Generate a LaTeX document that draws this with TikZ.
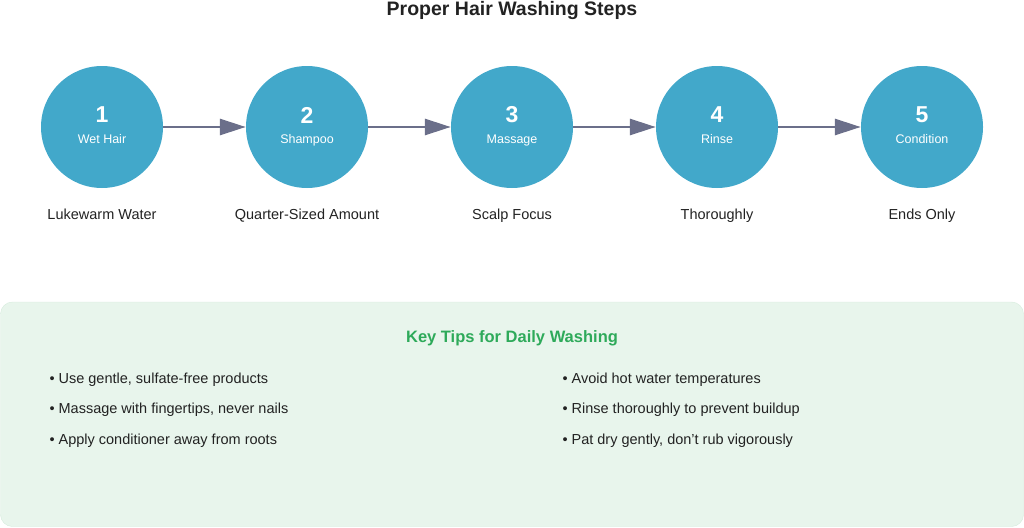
\documentclass[tikz,border=0pt]{standalone}
\usepackage{fontspec}
\setmainfont{Liberation Sans}
\usetikzlibrary{arrows.meta}
\definecolor{circ}{HTML}{42A8CA}
\definecolor{arr}{HTML}{6B6F8A}
\definecolor{boxbg}{HTML}{E8F5EC}
\definecolor{boxln}{HTML}{D5EBDC}
\definecolor{grn}{HTML}{2EAA5A}
\definecolor{txt}{HTML}{222222}
\tikzset{
 stepc/.style={circle,fill=circ,minimum size=122pt,inner sep=0pt},
 conn/.style={draw=arr,line width=2.8pt,-{Triangle[length=26pt,width=16pt]}},
 lab/.style={font=\fontsize{14.5}{16}\selectfont,text=txt,text height=10.5pt,text depth=3pt},
 tip/.style={font=\fontsize{14.5}{16}\selectfont,text=txt,anchor=west,text height=10.5pt,text depth=3pt},
}
\begin{document}
\begin{tikzpicture}[x=1pt,y=-1pt]
\useasboundingbox (0,0) rectangle (1024,527);
\node[font=\bfseries\fontsize{19.5}{22}\selectfont,text=txt,text height=14pt,text depth=4pt] (title) at (512,10.5) {Proper Hair Washing Steps};
\foreach \i/\x/\n/\l in {1/102/Wet Hair/Lukewarm Water,2/307/Shampoo/Quarter-Sized Amount,3/512/Massage/Scalp Focus,4/717/Rinse/Thoroughly,5/922/Condition/Ends Only}{
 \node[stepc] (s\i) at (\x,127) {};
 \node[text=white,font=\bfseries\fontsize{23}{24}\selectfont] (n\i) at (\x,115) {\i};
 \node[text=white,font=\fontsize{12.5}{14}\selectfont,text height=9pt,text depth=2.5pt] (t\i) at (\x,140) {\n};
 \node[lab] (l\i) at (\x,216) {\l};
}
\foreach \a/\b in {1/2,2/3,3/4,4/5}{\draw[conn] (s\a) -- (s\b);}
\draw[fill=boxbg,draw=boxln,rounded corners=12pt] (0.5,302) rectangle (1023.5,526.5);
\node[font=\bfseries\fontsize{16.5}{18}\selectfont,text=grn] (kt) at (512,338) {Key Tips for Daily Washing};
\node[tip] (a1) at (46,380) {• Use gentle, sulfate-free products};
\node[tip] (a2) at (46,410) {• Massage with fingertips, never nails};
\node[tip] (a3) at (46,441) {• Apply conditioner away from roots};
\node[tip] (b1) at (559,380) {• Avoid hot water temperatures};
\node[tip] (b2) at (559,410) {• Rinse thoroughly to prevent buildup};
\node[tip] (b3) at (559,441) {• Pat dry gently, don't rub vigorously};
\end{tikzpicture}
\end{document}
